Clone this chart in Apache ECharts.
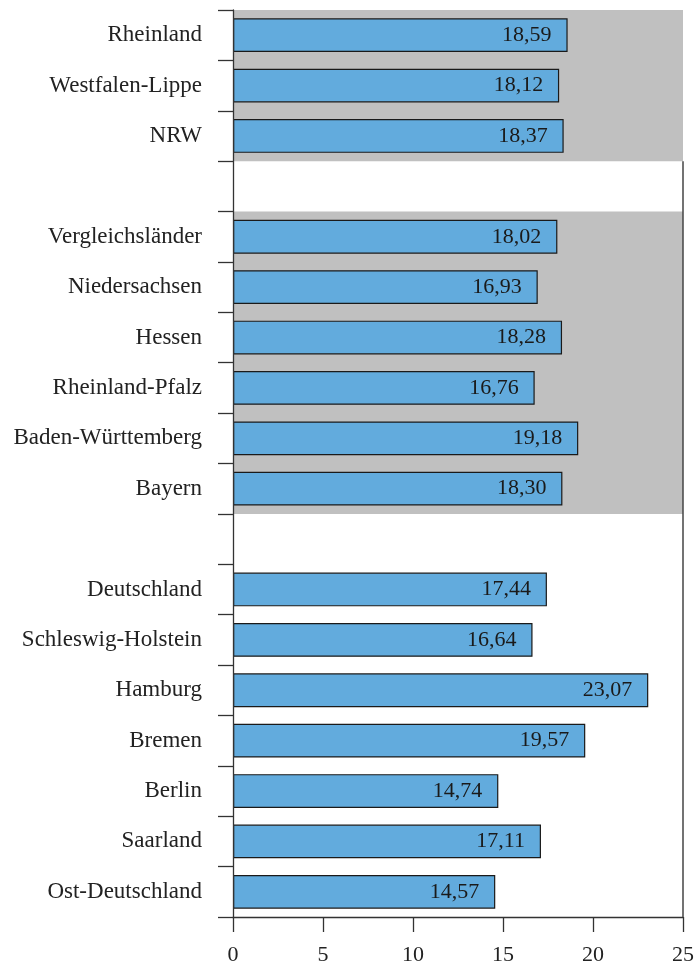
<!DOCTYPE html>
<html>
<head>
<meta charset="utf-8">
<script src="https://cdn.jsdelivr.net/npm/echarts@6/dist/echarts.min.js"></script>
<style>html,body{margin:0;padding:0;background:#fff}#c{width:696px;height:965px}</style>
</head>
<body>
<div id="c"></div>
<script>
// Data
var groupNRW = ['Rheinland', 'Westfalen-Lippe', 'NRW'];
var valuesNRW = [18.59, 18.12, 18.37];
var groupVergleich = ['Vergleichsländer', 'Niedersachsen', 'Hessen', 'Rheinland-Pfalz', 'Baden-Württemberg', 'Bayern'];
var valuesVergleich = [18.02, 16.93, 18.28, 16.76, 19.18, 18.30];
var groupRest = ['Deutschland', 'Schleswig-Holstein', 'Hamburg', 'Bremen', 'Berlin', 'Saarland', 'Ost-Deutschland'];
var valuesRest = [17.44, 16.64, 23.07, 19.57, 14.74, 17.11, 14.57];
var xTicks = [0, 5, 10, 15, 20, 25];

// Build categories with blank separator rows
var categories = [].concat(groupNRW, [' '], groupVergleich, ['  '], groupRest);
var values = [].concat(valuesNRW, [null], valuesVergleich, [null], valuesRest);
var n = categories.length;
var xMax = xTicks[xTicks.length - 1];

// shaded bands: groups NRW and Vergleichsländer
var b1s = 0, b1e = groupNRW.length;
var b2s = b1e + 1, b2e = b2s + groupVergleich.length;

var chart = echarts.init(document.getElementById('c'));
var font = '"Liberation Serif", "DejaVu Serif", serif';
chart.setOption({
  animation: false,
  backgroundColor: '#fff',
  grid: { left: 233, right: 13, top: 10, bottom: 48, outerBoundsMode: 'none', containLabel: false },
  xAxis: {
    type: 'value', min: 0, max: xMax, interval: 5,
    axisLine: { show: true, onZero: false, lineStyle: { color: '#333', width: 1.3 } },
    axisTick: { show: true, length: 15, lineStyle: { color: '#333', width: 1.3 } },
    splitLine: { show: false },
    axisLabel: { color: '#222', fontFamily: font, fontSize: 22, margin: 27 }
  },
  yAxis: [{
    type: 'category', data: categories, inverse: true, z: 5,
    axisLine: { show: true, onZero: false, lineStyle: { color: '#333', width: 1.3 } },
    axisTick: { show: true, length: 15, lineStyle: { color: '#333', width: 1.3 } },
    axisLabel: { color: '#222', fontFamily: font, fontSize: 23, margin: 31 },
    splitLine: { show: false }
  }, {
    type: 'value', min: 0, max: n, inverse: true, show: false
  }],
  series: [{
    type: 'scatter', yAxisIndex: 1, data: [], z: 1, silent: true,
    markArea: {
      silent: true,
      itemStyle: { color: '#c0c0c0' },
      data: [
        [{ coord: [0, b1s] }, { coord: [xMax, b1e] }],
        [{ coord: [0, b2s] }, { coord: [xMax, b2e] }]
      ]
    },
    markLine: {
      silent: true, symbol: 'none', animation: false,
      label: { show: false },
      lineStyle: { color: '#444', width: 1.5, type: 'solid' },
      data: [[{ coord: [xMax, b1e] }, { coord: [xMax, n] }]]
    }
  }, {
    type: 'bar', data: values, z: 3, barCategoryGap: '33%',
    itemStyle: { color: '#62abdd', borderColor: '#1a1a1a', borderWidth: 1.2 },
    label: {
      show: true, position: 'insideRight', distance: 16,
      color: '#1a1a1a', fontFamily: font, fontSize: 22,
      formatter: function (p) { return p.value == null ? '' : p.value.toFixed(2).replace('.', ','); }
    }
  }]
});
</script>
</body>
</html>
